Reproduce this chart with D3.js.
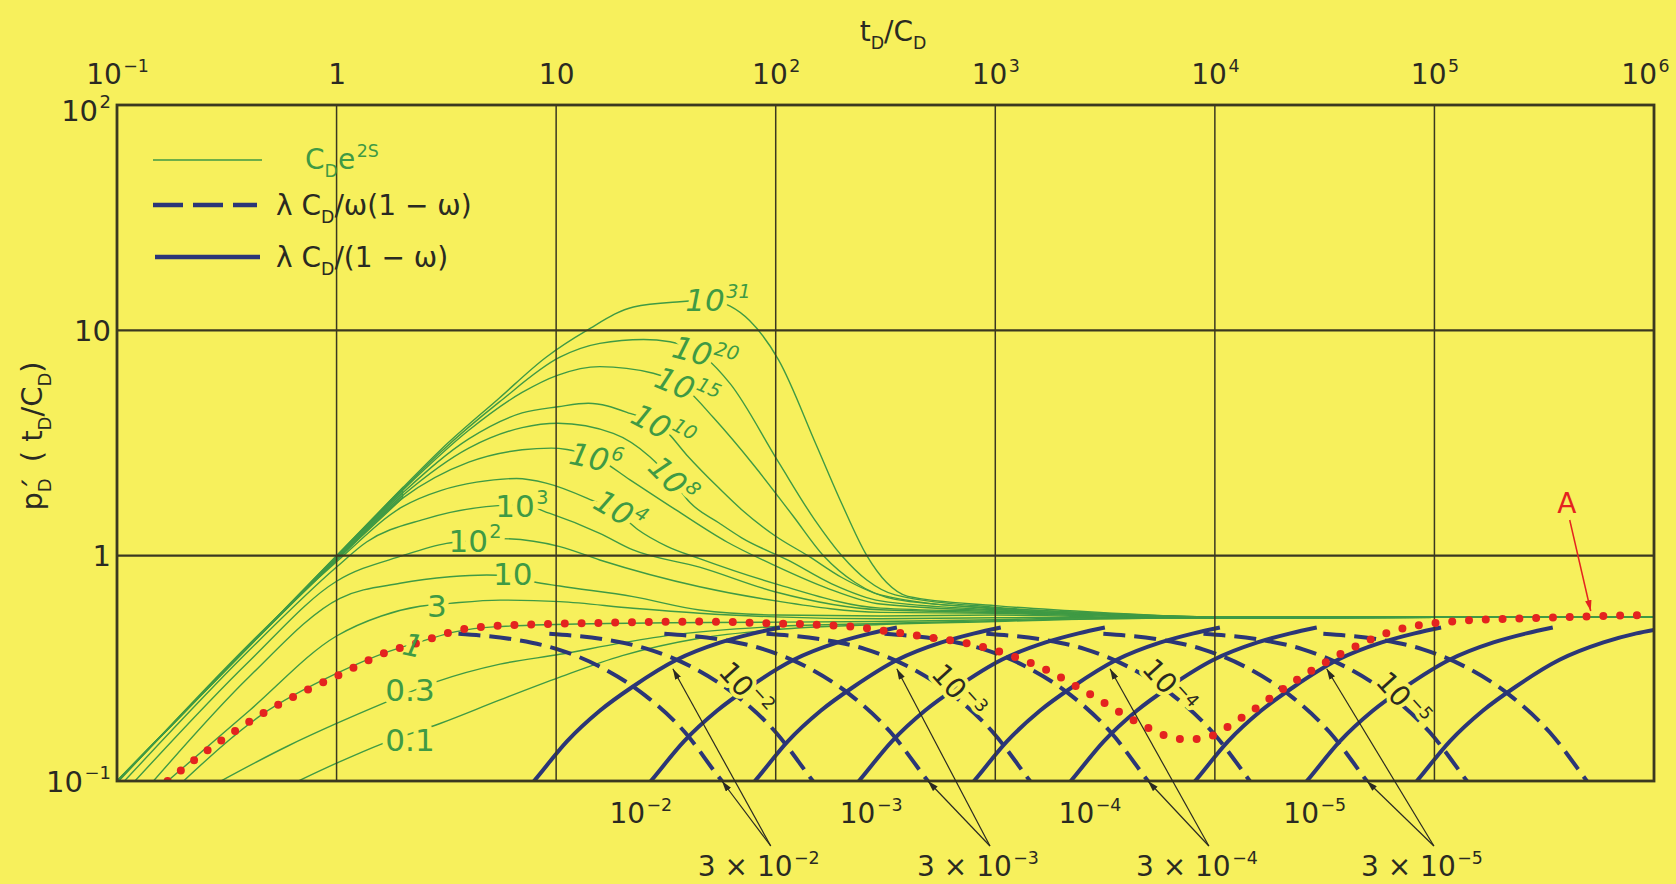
<!DOCTYPE html>
<html lang="en">
<head>
<meta charset="utf-8">
<title>Double porosity pressure derivative type curves</title>
<script src="https://cdn.jsdelivr.net/npm/d3@7/dist/d3.min.js"></script>
<style>
  html, body { margin: 0; padding: 0; background: #f7f05c; }
  svg { display: block; font-family: "DejaVu Sans", "Liberation Sans", Arial, sans-serif; }
</style>
</head>
<body>
<svg id="chart" width="1676" height="884"></svg>
<script>
// ---------- axis ticks ----------
const xTicks = [0.1, 1, 10, 100, 1e3, 1e4, 1e5, 1e6];
const xTickLabels = [[["10"], ["−1", "sup"]], [["1"]], [["10"]], [["10"], ["2", "sup"]],
  [["10"], ["3", "sup"]], [["10"], ["4", "sup"]], [["10"], ["5", "sup"]], [["10"], ["6", "sup"]]];
const yTicks = [0.1, 1, 10, 100];
const yTickLabels = [[["10"], ["−1", "sup"]], [["1"]], [["10"]], [["10"], ["2", "sup"]]];

// ---------- wellbore storage & skin derivative curves, [tD/CD, pD'] ----------
const cds_0_1 = [[0.6,0.095],[1,0.12],[1.63,0.147],[2.96,0.18],[5.55,0.229],[10.4,0.289],[20,0.36],[45,0.43],[100,0.47],[300,0.495],[1000,0.51],[3000,0.525],[10000,0.53],[1e6,0.535]];
const cds_0_3 = [[0.27,0.095],[0.6,0.143],[1,0.18],[1.63,0.221],[2.86,0.276],[5.55,0.33],[10.4,0.365],[20,0.41],[34,0.445],[100,0.485],[300,0.5],[1000,0.515],[3000,0.525],[10000,0.53],[1e6,0.535]];
const cds_1 = [[0.19,0.095],[0.45,0.195],[1,0.3],[1.72,0.375],[2.5,0.42],[3.5,0.46],[5.2,0.483],[17,0.5],[50,0.505],[300,0.51],[1000,0.52],[3000,0.53],[10000,0.53],[1e6,0.535]];
const cds_3 = [[0.16,0.095],[0.4,0.205],[1,0.44],[1.6,0.54],[2.4,0.596],[3.28,0.614],[5.55,0.635],[10.4,0.625],[22.4,0.584],[45,0.555],[100,0.535],[300,0.525],[1000,0.53],[10000,0.53],[1e6,0.535]];
const cds_10 = [[0.14,0.095],[0.4,0.29],[1.036,0.647],[1.945,0.754],[3.28,0.806],[4.83,0.821],[6.35,0.81],[7.87,0.766],[10.4,0.733],[22.4,0.658],[45,0.574],[100,0.545],[300,0.54],[1000,0.545],[3000,0.535],[10000,0.53],[1e6,0.535]];
const cds_1e2 = [[0.115,0.095],[0.4,0.34],[1,0.77],[2,1.0],[3.17,1.134],[4.27,1.17],[5.55,1.19],[10.4,1.097],[15.8,0.957],[45,0.728],[100,0.63],[300,0.56],[1000,0.555],[3000,0.54],[10000,0.53],[1e6,0.535]];
const cds_1e3 = [[0.105,0.097],[0.4,0.38],[1,0.89],[1.37,1.15],[2.5,1.45],[4.8,1.65],[7,1.68],[9.37,1.54],[15.8,1.256],[22.4,1.06],[45,0.89],[100,0.69],[300,0.575],[1000,0.56],[3000,0.545],[10000,0.53],[1e6,0.535]];
const cds_1e4 = [[0.1,0.098],[1,0.94],[2,1.65],[3,1.95],[4.34,2.12],[6.6,2.2],[9,2.1],[13.8,1.8],[19.5,1.52],[23.7,1.3],[32,1.1],[45,0.97],[100,0.75],[300,0.585],[1000,0.565],[3000,0.545],[10000,0.53],[1e6,0.535]];
const cds_1e6 = [[0.1,0.099],[1,0.955],[2,1.8],[4,2.6],[7,2.95],[9.5,3.0],[11.2,2.96],[15.2,2.72],[21.7,2.17],[35,1.6],[60,1.15],[100,0.9],[170,0.72],[300,0.61],[1000,0.57],[3000,0.55],[10000,0.532],[1e6,0.535]];
const cds_1e8 = [[0.1,0.1],[1,0.965],[2,1.85],[4,3.0],[7,3.7],[10.2,3.87],[18.2,3.49],[26.7,2.75],[34,2.15],[40.7,1.72],[55,1.4],[70,1.2],[115,0.95],[180,0.75],[300,0.63],[1000,0.575],[3000,0.55],[10000,0.533],[1e6,0.535]];
const cds_1e10 = [[0.1,0.1],[1,0.975],[2,1.9],[4,3.3],[7,4.3],[10.2,4.58],[14,4.75],[21.7,4.28],[30.6,3.7],[39.3,2.8],[55,2.0],[70,1.6],[100,1.22],[140,1.0],[200,0.8],[300,0.67],[1000,0.58],[3000,0.55],[10000,0.533],[1e6,0.535]];
const cds_1e15 = [[0.1,0.1],[1,0.985],[2,1.95],[4,3.6],[7,5.3],[10.2,6.33],[15.8,6.9],[27.7,6.45],[39.4,5.45],[52,4.1],[80,2.5],[120,1.5],[165,1.0],[230,0.76],[350,0.64],[1000,0.585],[3000,0.555],[10000,0.535],[1e6,0.535]];
const cds_1e20 = [[0.1,0.1],[1,0.99],[2,1.97],[3,2.9],[5.5,4.8],[10.4,7.6],[15.8,8.75],[25,9.1],[33,8.9],[47.6,7.6],[62,5.8],[103,2.6],[150,1.45],[200,1.0],[260,0.78],[350,0.67],[1000,0.59],[3000,0.555],[10000,0.535],[1e6,0.535]];
const cds_1e31 = [[0.1,0.1],[1,1.0],[2,2.0],[3,2.97],[5.5,5.0],[9,7.6],[13.8,10.0],[22.5,12.7],[36.6,13.4],[50,13.6],[62,12.8],[76,11.05],[103,7.4],[153,3.1],[200,1.7],[260,1.0],[320,0.76],[400,0.66],[1000,0.6],[3000,0.56],[10000,0.535],[1e6,0.535]];

// labels on the storage curves: text, position [tD/CD, pD'], tilt in degrees
const cdsLabelText = [[["0.1"]], [["0.3"]], [["1"]], [["3"]], [["10"]], [["10"], ["2", "sup"]], [["10"], ["3", "sup"]],
  [["10"], ["4", "sup"]], [["10"], ["6", "sup"]], [["10"], ["8", "sup"]], [["10"], ["10", "sup"]],
  [["10"], ["15", "sup"]], [["10"], ["20", "sup"]], [["10"], ["31", "sup"]]];
const cdsLabelAt = [[2.16,0.152],[2.16,0.2535],[2.23,0.401],[2.86,0.598],[6.35,0.829],[4.27,1.17],[6.98,1.66],
  [19.5,1.58],[15.2,2.71],[34,2.17],[30.6,3.72],[39.4,5.55],[47.6,7.85],[54.6,13.6]];
const cdsLabelTilt = [0, 0, 12, 0, 0, 0, 0, 30, 12, 45, 28, 22, 15, 0];
const cdsLabelItalic = [false, false, true, false, false, false, false, true, true, true, true, true, true, true];

// ---------- transition curves, dashed: lambda CD / omega(1-omega) ----------
const dash_3e2 = [[3.59,0.45],[6.38,0.425],[10.1,0.385],[16.0,0.32],[25.4,0.24],[38.5,0.165],[56.9,0.1],[60,0.094]];
const dash_1e2 = [[9.31,0.45],[16.6,0.425],[26.2,0.385],[41.6,0.32],[65.9,0.24],[99.8,0.165],[147.6,0.1],[155,0.094]];
const dash_3e3 = [[31.1,0.45],[55.3,0.425],[87.7,0.385],[139,0.32],[220,0.24],[333,0.165],[493,0.1],[518,0.094]];
const dash_1e3 = [[90.8,0.45],[161,0.425],[256,0.385],[406,0.32],[643,0.24],[973,0.165],[1439,0.1],[1510,0.094]];
const dash_3e4 = [[313,0.45],[556,0.425],[881,0.385],[1396,0.32],[2213,0.24],[3350,0.165],[4955,0.1],[5200,0.094]];
const dash_1e4 = [[910,0.45],[1618,0.425],[2564,0.385],[4064,0.32],[6442,0.24],[9750,0.165],[14420,0.1],[15100,0.094]];
const dash_3e5 = [[3105,0.45],[5521,0.425],[8750,0.385],[13870,0.32],[21980,0.24],[33270,0.165],[49200,0.1],[51600,0.094]];
const dash_1e5 = [[8872,0.45],[15780,0.425],[25000,0.385],[39630,0.32],[62810,0.24],[95060,0.165],[140600,0.1],[147500,0.094]];
const dash_3e6 = [[31190,0.45],[55460,0.425],[87900,0.385],[139300,0.32],[220800,0.24],[334200,0.165],[494300,0.1],[518000,0.094]];

// ---------- transition curves, solid: lambda CD / (1-omega) ----------
const solid_3e2 = [[7.4,0.0925],[7.93,0.1],[11.2,0.15],[15.8,0.205],[22.3,0.262],[35.4,0.345],[56.1,0.412],[79.3,0.452],[104.5,0.48]];
const solid_1e2 = [[25.2,0.0925],[27.0,0.1],[38.2,0.15],[54.0,0.205],[76.2,0.262],[120.8,0.345],[191.4,0.412],[270.4,0.452],[356.4,0.48]];
const solid_3e3 = [[75.0,0.0925],[80.4,0.1],[113.5,0.15],[160.3,0.205],[226.5,0.262],[358.9,0.345],[568.9,0.412],[803.5,0.452],[1059,0.48]];
const solid_1e3 = [[223.3,0.0925],[239.3,0.1],[338.1,0.15],[477.5,0.205],[674.5,0.262],[1069,0.345],[1694,0.412],[2393,0.452],[3155,0.48]];
const solid_3e4 = [[746,0.0925],[799.8,0.1],[1130,0.15],[1596,0.205],[2254,0.262],[3573,0.345],[5662,0.412],[7998,0.452],[10540,0.48]];
const solid_1e4 = [[2061,0.0925],[2208,0.1],[3119,0.15],[4406,0.205],[6223,0.262],[9863,0.345],[15630,0.412],[22080,0.452],[29110,0.48]];
const solid_3e5 = [[7586,0.0925],[8128,0.1],[11480,0.15],[16220,0.205],[22910,0.262],[36310,0.345],[57540,0.412],[81280,0.452],[107200,0.48]];
const solid_1e5 = [[24490,0.0925],[26240,0.1],[37070,0.15],[52360,0.205],[73960,0.262],[117200,0.345],[185800,0.412],[262400,0.452],[345900,0.48]];
const solid_3e6 = [[77620,0.0925],[83180,0.1],[117500,0.15],[166000,0.205],[234400,0.262],[371500,0.345],[588800,0.412],[831800,0.452],[1000000,0.468]];

// ---------- field response "A" ----------
const curveA = [[0.17,0.1],[0.279,0.1445],[0.448,0.196],[0.731,0.253],[1.02,0.295],[1.72,0.375],[2.44,0.415],[3.52,0.465],[5.17,0.487],[17,0.504],[48,0.51],[87.5,0.502],[225,0.484],[331,0.46],[477,0.437],[822,0.40],[1652,0.316],[2793,0.238],[4479,0.1815],[6356,0.156],[7556,0.153],[9162,0.156],[12770,0.1866],[23550,0.2805],[38400,0.371],[66000,0.465],[115000,0.509],[302000,0.529],[925000,0.546]];
const curveAPointer = [515000, 0.54];

// ---------- labels on the dashed curves (lambda CD / omega(1-omega) = 1e-k) ----------
const dashLabelText = [[["10"], ["−2", "sup"]], [["10"], ["−3", "sup"]], [["10"], ["−4", "sup"]], [["10"], ["−5", "sup"]]];
const dashLabelAt = [[73,0.256],[680,0.25],[6200,0.264],[72000,0.231]];

// ---------- labels under the axis ----------
const bottomLabelText = [[["10"], ["−2", "sup"]], [["10"], ["−3", "sup"]], [["10"], ["−4", "sup"]], [["10"], ["−5", "sup"]]];
const bottomLabelT = [24.3, 272, 2698, 28500];
const pairLabelText = [[["3 × 10"], ["−2", "sup"]], [["3 × 10"], ["−3", "sup"]],
  [["3 × 10"], ["−4", "sup"]], [["3 × 10"], ["−5", "sup"]]];
const pairLabelT = [83.7, 834, 8280, 87700];
// arrow tips for each pair label: [dashed curve foot, point on the solid curve]
const pairArrowTips = [
  [[56.9, 0.1], [34, 0.315]],
  [[493, 0.1], [356, 0.315]],
  [[4955, 0.1], [3330, 0.315]],
  [[49200, 0.1], [32300, 0.315]]
];

// ---------- drawing ----------
const W = 1676, H = 884;
const FONT = '"DejaVu Sans", "Liberation Sans", Arial, sans-serif';
const BG = "#f7f05c", GRID = "#3b3820", GREEN = "#3f9a44", BLUE = "#2b3677", RED = "#e4231f", INK = "#2a2a22";
const plot = { left: 117, right: 1654, top: 105, bottom: 781 };

const x = d3.scaleLog().domain([0.1, 1e6]).range([plot.left, plot.right]);
const y = d3.scaleLog().domain([0.1, 100]).range([plot.bottom, plot.top]);

const svg = d3.select("#chart");
svg.append("rect").attr("width", W).attr("height", H).attr("fill", BG);

const defs = svg.append("defs");
defs.append("clipPath").attr("id", "plotClip").append("rect")
  .attr("x", plot.left).attr("y", plot.top)
  .attr("width", plot.right - plot.left).attr("height", plot.bottom - plot.top);
function arrowMarker(id, color) {
  defs.append("marker").attr("id", id).attr("viewBox", "0 0 10 6")
    .attr("refX", 10).attr("refY", 3).attr("markerWidth", 11).attr("markerHeight", 6.5)
    .attr("markerUnits", "userSpaceOnUse").attr("orient", "auto")
    .append("path").attr("d", "M0,0 L10,3 L0,6 Z").attr("fill", color);
}
arrowMarker("arrowInk", INK);
arrowMarker("arrowRed", RED);

// text with super/subscripts; `base` shifts the whole run vertically
function rich(sel, parts, size, base = 0, scale = 0.62) {
  let cur = -base;
  for (const p of parts) {
    const s = p[0], k = p[1] || "n";
    let dx = p[2] || 0;
    if (k === "sup" && !p[2]) dx = 1.5;
    const off = k === "sup" ? -0.42 * size : k === "sub" ? 0.3 * size : k === "acc" ? 0.12 * size : 0;
    const fs = k === "n" ? size : k === "acc" ? size * 0.95 : size * scale;
    const t = sel.append("tspan").style("font-size", fs + "px").text(s);
    const dy = off - cur;
    if (Math.abs(dy) > 1e-6) t.attr("dy", dy.toFixed(2));
    if (dx) t.attr("dx", dx);
    cur = off;
  }
}

// layers, bottom to top
const layerGreen = svg.append("g").attr("clip-path", "url(#plotClip)");
const layerBlue = svg.append("g").attr("clip-path", "url(#plotClip)");
const layerHalo = svg.append("g");
const layerGrid = svg.append("g");
const layerRed = svg.append("g").attr("clip-path", "url(#plotClip)");
const layerText = svg.append("g");
const layerTop = svg.append("g");

// grid
layerGrid.selectAll("line.vx").data(xTicks.slice(1, -1)).join("line")
  .attr("x1", d => x(d)).attr("x2", d => x(d))
  .attr("y1", plot.top).attr("y2", plot.bottom)
  .attr("stroke", GRID).attr("stroke-width", 1.5);
layerGrid.selectAll("line.hy").data(yTicks.slice(1, -1)).join("line")
  .attr("x1", plot.left).attr("x2", plot.right)
  .attr("y1", d => y(d)).attr("y2", d => y(d))
  .attr("stroke", GRID).attr("stroke-width", 2.3);

// axes (labels only)
const gx = layerTop.append("g").attr("transform", `translate(0,${plot.top})`)
  .call(d3.axisTop(x).tickValues(xTicks).tickSize(0).tickPadding(21).tickFormat(() => ""));
gx.attr("font-family", FONT).attr("font-size", 28);
gx.select(".domain").remove();
gx.selectAll(".tick text").each(function (d, i) {
  const t = d3.select(this).attr("fill", INK).attr("dy", null);
  if (i === xTicks.length - 1) t.attr("text-anchor", "end").attr("x", 15);
  rich(t, xTickLabels[i], 28);
});
const gy = layerTop.append("g").attr("transform", `translate(${plot.left},0)`)
  .call(d3.axisLeft(y).tickValues(yTicks).tickSize(0).tickPadding(6).tickFormat(() => ""));
gy.attr("font-family", FONT).attr("font-size", 29);
gy.select(".domain").remove();
gy.selectAll(".tick text").each(function (d, i) {
  const t = d3.select(this).attr("fill", INK).attr("dy", null);
  rich(t, yTickLabels[i], 29, d === 100 ? 15 : 10);
});

// axis titles
const title = layerTop.append("text").attr("x", 893).attr("y", 41).attr("text-anchor", "middle")
  .attr("fill", INK).style("font-size", "28px");
rich(title, [["t"], ["D", "sub"], ["/C"], ["D", "sub"]], 28);
const ytitle = layerTop.append("text").attr("transform", "translate(42,436) rotate(-90)")
  .attr("text-anchor", "middle").attr("fill", INK).style("font-size", "29px");
rich(ytitle, [["p"], ["D", "sub"], ["´", "acc", -13], [" ( t", "n", 6], ["D", "sub"], ["/C"], ["D", "sub"], [")"]], 29);

const line = d3.line().x(d => x(d[0])).y(d => y(d[1])).curve(d3.curveMonotoneX);

// storage & skin curves
const storageCurves = [cds_0_1, cds_0_3, cds_1, cds_3, cds_10, cds_1e2, cds_1e3, cds_1e4, cds_1e6, cds_1e8, cds_1e10, cds_1e15, cds_1e20, cds_1e31];
layerGreen.append("g").selectAll("path").data(storageCurves).join("path")
  .attr("d", line).attr("fill", "none").attr("stroke", GREEN).attr("stroke-width", 1.4);

// dense early-time bundle along the unit slope
const bundleTop = cds_1e31.slice(0, 3);
const bundleBottom = cds_1e6.slice(0, 3);
const bundle = d3.area().x(d => x(d[0][0])).y0(d => y(d[1][1])).y1(d => y(d[0][1])).curve(d3.curveMonotoneX);
layerGreen.append("path").datum(d3.zip(bundleTop, bundleBottom)).attr("d", bundle)
  .attr("fill", GREEN).attr("fill-opacity", 0.75).attr("stroke", GREEN).attr("stroke-width", 1.2);

// transition curves
const dashedCurves = [dash_3e2, dash_1e2, dash_3e3, dash_1e3, dash_3e4, dash_1e4, dash_3e5, dash_1e5, dash_3e6];
const solidCurves = [solid_3e2, solid_1e2, solid_3e3, solid_1e3, solid_3e4, solid_1e4, solid_3e5, solid_1e5, solid_3e6];
layerBlue.append("g").selectAll("path").data(dashedCurves).join("path")
  .attr("d", line).attr("fill", "none").attr("stroke", BLUE).attr("stroke-width", 4)
  .attr("stroke-dasharray", "22 9");
layerBlue.append("g").selectAll("path").data(solidCurves).join("path")
  .attr("d", line).attr("fill", "none").attr("stroke", BLUE).attr("stroke-width", 4);

// labels: a background-coloured knock-out goes below the grid, the glyphs above it
function placeLabel(parts, px, py, tilt, size, color, italic, halo) {
  const tf = `translate(${px},${py}) rotate(${tilt}) translate(0,${(0.36 * size).toFixed(1)})`;
  const mk = g => g.append("text").attr("transform", tf).attr("text-anchor", "middle")
    .style("font-size", size + "px").style("font-style", italic ? "italic" : "normal");
  const h = mk(layerHalo).attr("fill", BG).attr("stroke", BG).attr("stroke-width", halo).attr("stroke-linejoin", "round");
  rich(h, parts, size);
  const t = mk(layerText).attr("fill", color);
  rich(t, parts, size);
}
cdsLabelText.forEach((parts, i) => {
  placeLabel(parts, x(cdsLabelAt[i][0]), y(cdsLabelAt[i][1]), cdsLabelTilt[i], 31, GREEN, cdsLabelItalic[i], 10);
});
dashLabelText.forEach((parts, i) => {
  placeLabel(parts, x(dashLabelAt[i][0]), y(dashLabelAt[i][1]), 48, 28, INK, false, 8);
});

// response A (dotted)
layerRed.append("path").datum(curveA).attr("d", line).attr("fill", "none")
  .attr("stroke", RED).attr("stroke-width", 8).attr("stroke-linecap", "round")
  .attr("stroke-dasharray", "0 16.8");

// frame
layerTop.append("rect").attr("x", plot.left).attr("y", plot.top)
  .attr("width", plot.right - plot.left).attr("height", plot.bottom - plot.top)
  .attr("fill", "none").attr("stroke", GRID).attr("stroke-width", 2.8);

// "A" marker
layerTop.append("text").attr("x", x(curveAPointer[0]) - 24).attr("y", 513).attr("text-anchor", "middle")
  .attr("fill", RED).style("font-size", "28px").text("A");
layerTop.append("line").attr("x1", x(curveAPointer[0]) - 21).attr("y1", 520)
  .attr("x2", x(curveAPointer[0])).attr("y2", y(curveAPointer[1]) - 5)
  .attr("stroke", RED).attr("stroke-width", 1.5).attr("marker-end", "url(#arrowRed)");

// labels beneath the axis and their pointers
const under = layerTop.append("g").attr("fill", INK);
bottomLabelText.forEach((parts, i) => {
  const t = under.append("text").attr("x", x(bottomLabelT[i])).attr("y", 823)
    .attr("text-anchor", "middle").style("font-size", "28px");
  rich(t, parts, 28);
});
pairLabelText.forEach((parts, i) => {
  const cx = x(pairLabelT[i]);
  const t = under.append("text").attr("x", cx).attr("y", 876)
    .attr("text-anchor", "middle").style("font-size", "28px");
  rich(t, parts, 28);
  pairArrowTips[i].forEach(tip => {
    under.append("line").attr("x1", cx + 12).attr("y1", 846)
      .attr("x2", x(tip[0])).attr("y2", y(tip[1]))
      .attr("stroke", INK).attr("stroke-width", 1.2).attr("marker-end", "url(#arrowInk)");
  });
});

// legend
const legend = layerTop.append("g");
legend.append("line").attr("x1", 153).attr("x2", 262).attr("y1", 160).attr("y2", 160)
  .attr("stroke", GREEN).attr("stroke-width", 1.6);
legend.append("line").attr("x1", 153).attr("x2", 257).attr("y1", 205).attr("y2", 205)
  .attr("stroke", BLUE).attr("stroke-width", 4.5).attr("stroke-dasharray", "30 10");
legend.append("line").attr("x1", 155).attr("x2", 260).attr("y1", 257).attr("y2", 257)
  .attr("stroke", BLUE).attr("stroke-width", 4.5);
const lg1 = legend.append("text").attr("x", 305).attr("y", 169).attr("fill", GREEN).style("font-size", "28px");
rich(lg1, [["C"], ["D", "sub"], ["e"], ["2S", "sup"]], 28);
const lg2 = legend.append("text").attr("x", 276).attr("y", 215).attr("fill", INK).style("font-size", "28px");
rich(lg2, [["λ C"], ["D", "sub"], ["/ω(1 − ω)"]], 28);
const lg3 = legend.append("text").attr("x", 276).attr("y", 267).attr("fill", INK).style("font-size", "28px");
rich(lg3, [["λ C"], ["D", "sub"], ["/(1 − ω)"]], 28);
</script>
</body>
</html>
